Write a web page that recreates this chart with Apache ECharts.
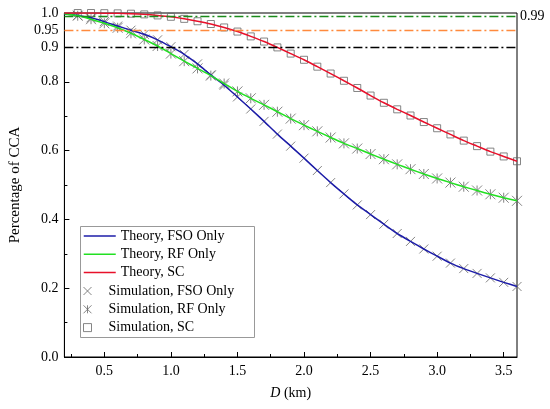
<!DOCTYPE html>
<html>
<head>
<meta charset="utf-8">
<script src="https://cdn.jsdelivr.net/npm/echarts@6/dist/echarts.min.js"></script>
<style>
  html, body { margin: 0; padding: 0; background: #fff; }
  #chart { width: 550px; height: 409px; }
</style>
</head>
<body>
<div id="chart"></div>
<script>
// distance D (km)
const dist = [0.2, 0.3, 0.4, 0.5, 0.6, 0.7, 0.8, 0.9, 1.0, 1.1, 1.2, 1.3, 1.4, 1.5, 1.6, 1.7, 1.8, 1.9,
  2.0, 2.1, 2.2, 2.3, 2.4, 2.5, 2.6, 2.7, 2.8, 2.9, 3.0, 3.1, 3.2, 3.3, 3.4, 3.5, 3.6]

// theory curves
const fso = [0.997, 0.993, 0.986, 0.975, 0.962, 0.950, 0.938, 0.922, 0.902, 0.880, 0.852, 0.820, 0.790,
  0.756, 0.721, 0.685, 0.648, 0.613, 0.578, 0.542, 0.507, 0.474, 0.442, 0.414, 0.386, 0.359, 0.336,
  0.314, 0.293, 0.273, 0.257, 0.243, 0.230, 0.217, 0.205]
const rf = [0.998, 0.992, 0.982, 0.970, 0.957, 0.941, 0.923, 0.904, 0.882, 0.860, 0.839, 0.818, 0.795,
  0.772, 0.752, 0.733, 0.713, 0.693, 0.674, 0.656, 0.638, 0.621, 0.606, 0.590, 0.575, 0.560, 0.546,
  0.532, 0.519, 0.507, 0.495, 0.484, 0.473, 0.463, 0.454]
const sc = [1.000, 1.000, 1.000, 0.9995, 0.999, 0.998, 0.996, 0.993, 0.989, 0.983, 0.976, 0.968, 0.958,
  0.946, 0.932, 0.917, 0.900, 0.882, 0.864, 0.844, 0.824, 0.803, 0.782, 0.760, 0.739, 0.720, 0.702,
  0.683, 0.665, 0.647, 0.629, 0.613, 0.597, 0.583, 0.569]

// simulation markers sit on the curves from D = 0.3 on
const simDist = dist.slice(1)
const simFso = fso.slice(1)
const simRf = rf.slice(1)
const simSc = sc.slice(1)

// thresholds
const thresholds = [0.99, 0.95, 0.9]
const thresholdColors = ['#1a8a1a', '#ff8a3d', '#000']

// ticks and labels
const xMajor = [0.5, 1.0, 1.5, 2.0, 2.5, 3.0, 3.5]
const xMinor = [0.25, 0.75, 1.25, 1.75, 2.25, 2.75, 3.25]
const yLabels = [0, 0.2, 0.4, 0.6, 0.8, 0.9, 0.95, 1.0]

const font = 'Liberation Serif'
const pair = (xs, ys) => xs.map((x, i) => [x, ys[i]])

const crossPath = 'path://M0,0L10,10M10,0L0,10'
const starPath = 'path://M0,0L10,10M10,0L0,10M5,0L5,10'
const squarePath = 'path://M0,0L10,0L10,10L0,10Z'

const chart = echarts.init(document.getElementById('chart'))

function theory(name, data, color) {
  return {
    name, type: 'line', data, smooth: 0.2, symbol: 'none', z: 4,
    lineStyle: { color, width: 1.5 }, itemStyle: { color },
  }
}
function simulation(name, data, symbol, size) {
  return {
    name, type: 'scatter', data, symbol, symbolSize: size, z: 3,
    itemStyle: { color: 'transparent', borderColor: '#666', borderWidth: 1 },
  }
}

const option = {
  animation: false,
  textStyle: { fontFamily: font, color: '#000' },
  grid: { left: 49, right: 33, top: 13, bottom: 52, show: true, borderColor: '#000', borderWidth: 1 },
  xAxis: [
    {
      type: 'value', min: 0.2, max: 3.6,
      name: '{i|D} (km)', nameLocation: 'middle', nameGap: 29,
      nameTextStyle: { fontFamily: font, fontSize: 14, color: '#000',
        rich: { i: { fontFamily: font, fontSize: 14, fontStyle: 'italic', color: '#000' } } },
      axisLine: { lineStyle: { color: '#000', width: 1 } },
      axisTick: { inside: true, length: 5, customValues: xMajor, lineStyle: { color: '#000' } },
      axisLabel: { customValues: xMajor, margin: 7, fontFamily: font, fontSize: 14, color: '#000',
        formatter: (v) => v.toFixed(1) },
      splitLine: { show: false },
    },
    {
      type: 'value', min: 0.2, max: 3.6, position: 'bottom',
      axisLine: { show: false },
      axisTick: { inside: true, length: 3, customValues: xMinor, lineStyle: { color: '#000' } },
      axisLabel: { show: false },
      splitLine: { show: false },
    },
  ],
  yAxis: {
    type: 'value', min: 0, max: 1, interval: 0.2,
    name: 'Percentage of CCA', nameLocation: 'middle', nameGap: 28,
    nameTextStyle: { fontFamily: font, fontSize: 15, color: '#000' },
    axisLine: { show: true, lineStyle: { color: '#000', width: 1 } },
    axisTick: { inside: true, length: 5, lineStyle: { color: '#000' } },
    minorTick: { show: true, splitNumber: 2, length: 3, lineStyle: { color: '#000' } },
    axisLabel: { customValues: yLabels, margin: 6, fontFamily: font, fontSize: 14, color: '#000',
      formatter: (v) => (v === 0.95 ? '0.95' : v.toFixed(1)) },
    splitLine: { show: false },
    minorSplitLine: { show: false },
  },
  legend: [
    {
      orient: 'vertical', left: 83, top: 229, itemWidth: 32, itemHeight: 14, itemGap: 4.3,
      padding: 0, textStyle: { fontFamily: font, fontSize: 14, color: '#000' },
      itemStyle: { opacity: 0 },
      lineStyle: { width: 1.5 },
      data: ['Theory, FSO Only', 'Theory, RF Only', 'Theory, SC'],
    },
    {
      orient: 'vertical', left: 83, top: 284, itemWidth: 32, itemHeight: 8, itemGap: 4.3,
      padding: 0, textStyle: { fontFamily: font, fontSize: 14, color: '#000' },
      itemStyle: { borderWidth: 1 },
      data: ['Simulation, FSO Only', 'Simulation, RF Only', 'Simulation, SC'],
    },
  ],
  graphic: [{
    type: 'rect', left: 80, top: 226, z: 1,
    shape: { width: 174, height: 111 },
    style: { fill: '#fff', stroke: '#999', lineWidth: 1 },
  }],
  series: [
    simulation('Simulation, FSO Only', pair(simDist, simFso), crossPath, 9),
    simulation('Simulation, RF Only', pair(simDist, simRf), starPath, 10),
    simulation('Simulation, SC', pair(simDist, simSc), squarePath, 7),
    theory('Theory, FSO Only', pair(dist, fso), '#1c1ca8'),
    theory('Theory, RF Only', pair(dist, rf), '#22e022'),
    theory('Theory, SC', pair(dist, sc), '#e8102a'),
    {
      type: 'line', data: [], silent: true,
      markLine: {
        silent: true, symbol: 'none',
        data: thresholds.map((t, i) => ({
          yAxis: t,
          lineStyle: { color: thresholdColors[i], type: [9, 3, 2, 3], width: 1.4 },
          label: i === 0
            ? { show: true, position: 'end', distance: 3, formatter: '0.99', fontFamily: font, fontSize: 14, color: '#000' }
            : { show: false },
        })),
      },
    },
  ],
}

chart.setOption(option)
</script>
</body>
</html>
